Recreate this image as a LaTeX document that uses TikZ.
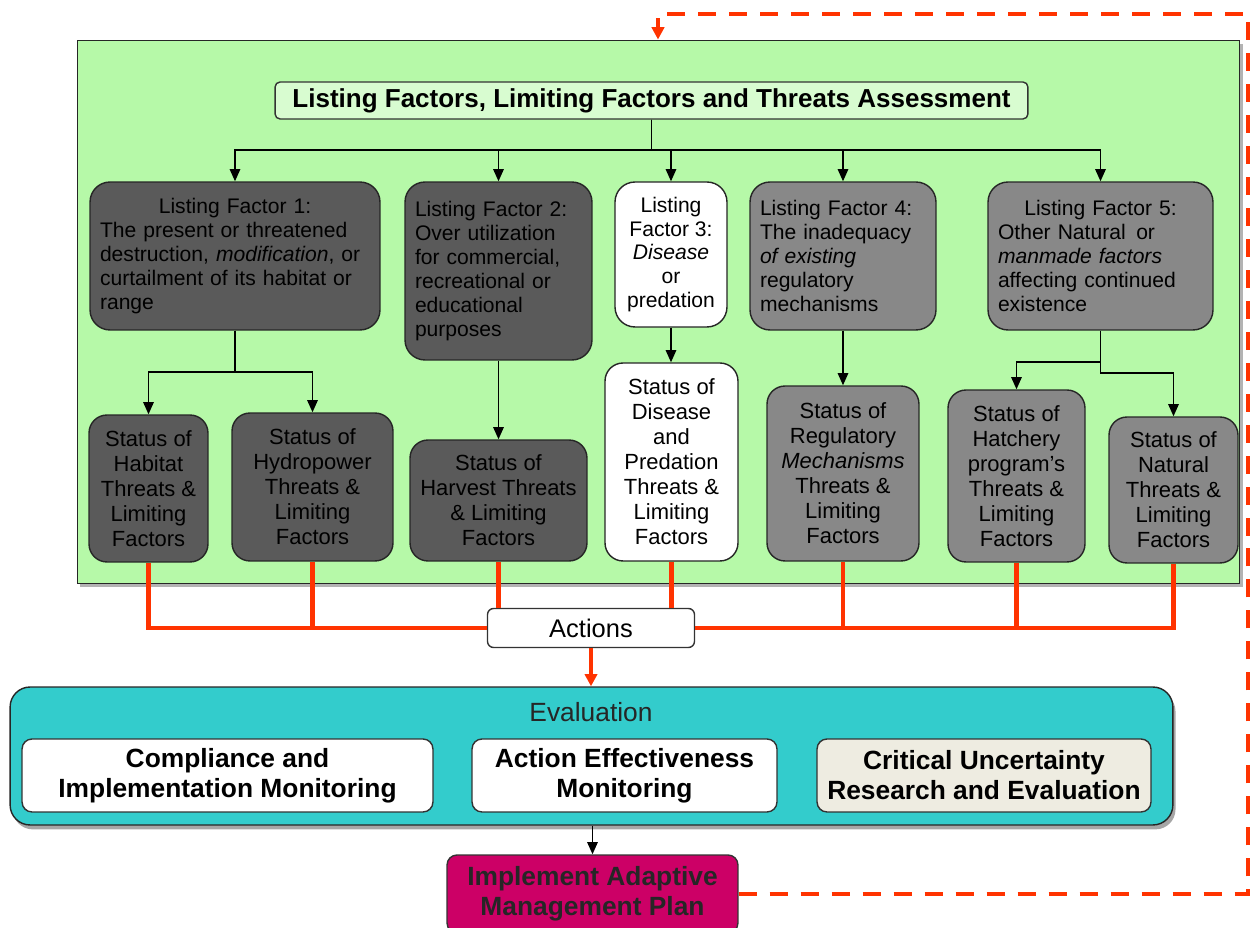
\documentclass[tikz,border=0pt]{standalone}
\usepackage{fontspec}
\setmainfont[Ligatures=NoCommon]{Liberation Sans}
\usetikzlibrary{arrows.meta,positioning,shadows}

\definecolor{panelgreen}{RGB}{182,249,168}
\definecolor{titlegreen}{RGB}{216,252,208}
\definecolor{darkgrey}{RGB}{90,90,90}
\definecolor{midgrey}{RGB}{136,136,136}
\definecolor{evalteal}{RGB}{51,204,204}
\definecolor{cream}{RGB}{238,236,225}
\definecolor{plancrimson}{RGB}{204,0,102}
\definecolor{actred}{RGB}{255,51,0}

\newcommand{\lffont}{\fontsize{12}{13.6}\selectfont}
\newcommand{\stfont}{\fontsize{12.5}{14.2}\selectfont}
\newcommand{\bigbold}{\fontsize{15}{17}\selectfont\bfseries}

\begin{document}
\begin{tikzpicture}
  [x=0.02cm,y=-0.02cm,
   panelbox/.style={draw=black!85,line width=0.6pt,fill=panelgreen,
     drop shadow={shadow xshift=1.5pt,shadow yshift=-2pt,opacity=.6}},
   titlebox/.style={draw=black!80,line width=0.8pt,fill=titlegreen,rounded corners=0.1cm,
     font=\fontsize{14.8}{17}\selectfont\bfseries},
   lfbox/.style={draw=black!85,line width=0.8pt,rounded corners=0.4cm,inner xsep=0.2cm,
     align=left,font=\lffont},
   stbox/.style={draw=black!85,line width=0.8pt,rounded corners=0.36cm,inner sep=0pt,
     align=center,font=\stfont},
   dark/.style={fill=darkgrey},
   mid/.style={fill=midgrey},
   light/.style={fill=white},
   actbox/.style={draw=black!80,line width=0.8pt,fill=white,rounded corners=0.12cm,
     font=\fontsize{14.5}{16}\selectfont},
   evalbox/.style={draw=black!85,line width=0.8pt,fill=evalteal,rounded corners=0.4cm,
     drop shadow={shadow xshift=1.5pt,shadow yshift=-2.5pt,opacity=.7}},
   monbox/.style={draw=black!80,line width=0.8pt,rounded corners=0.2cm,align=center,
     font=\bigbold},
   planbox/.style={draw=black!80,line width=0.8pt,fill=plancrimson,rounded corners=0.2cm,
     align=center,text=black!85,font=\bigbold},
   plain/.style={inner sep=0pt},
   arr/.style={line width=0.9pt,-{Triangle[length=7pt,width=6pt]}},
   redline/.style={actred,line width=2.3pt},
   loopline/.style={actred,line width=2.3pt,dash pattern=on 0.36cm off 0.26cm,
     -{Triangle[length=7pt,width=7pt]}}]

  \useasboundingbox (0,0) rectangle (1252,928);

  % assessment panel
  \node (panel) [panelbox,minimum width=23.26cm,minimum height=10.88cm] at (658.5,312) {};
  \node (title) [titlebox,minimum width=15.06cm,minimum height=0.74cm] at (651.5,100.5)
    {Listing Factors, Limiting Factors and Threats Assessment};

  % listing factors
  \node (lf1) [lfbox,dark,text width=5.4cm,minimum height=2.96cm] at (235,256)
    {{\centering Listing Factor 1:\par}The present or threatened\\
     destruction, \textit{modification}, or\\ curtailment of its habitat or\\ range};
  \node (lf2) [lfbox,dark,text width=3.34cm,minimum height=3.56cm] at (498.5,271)
    {Listing Factor 2:\\ Over utilization\\ for commercial,\\ recreational or\\
     educational\\ purposes};
  \node (lf3) [lfbox,light,align=center,inner xsep=0pt,minimum width=2.24cm,minimum height=2.9cm]
    at (671,254.5) {Listing\\ Factor 3:\\ \textit{Disease}\\ or\\ predation};
  \node (lf4) [lfbox,mid,text width=3.32cm,minimum height=2.96cm] at (843,256)
    {Listing Factor 4:\\ The inadequacy\\ \textit{of existing}\\ regulatory\\ mechanisms};
  \node (lf5) [lfbox,mid,text width=4.1cm,minimum height=2.96cm] at (1100.5,256)
    {{\centering Listing Factor 5:\par}Other Natural\, or\\ \textit{manmade factors}\\
     affecting continued\\ existence};

  % status of threats
  \node (shab) [stbox,dark,minimum width=2.38cm,minimum height=2.94cm] at (148.5,488.5)
    {Status of\\ Habitat\\ Threats \&\\ Limiting\\ Factors};
  \node (shyd) [stbox,dark,minimum width=3.22cm,minimum height=2.96cm] at (312.5,487)
    {Status of\\ Hydropower\\ Threats \&\\ Limiting\\ Factors};
  \node (sharv) [stbox,dark,minimum width=3.54cm,minimum height=2.42cm] at (498.5,500.5)
    {Status of\\ Harvest Threats\\ \& Limiting\\ Factors};
  \node (sdis) [stbox,light,minimum width=2.66cm,minimum height=3.96cm] at (671.5,462)
    {Status of\\ Disease\\ and\\ Predation\\ Threats \&\\ Limiting\\ Factors};
  \node (sreg) [stbox,mid,minimum width=3.04cm,minimum height=3.5cm] at (843,473.5)
    {Status of\\ Regulatory\\ \textit{Mechanisms}\\ Threats \&\\ Limiting\\ Factors};
  \node (shat) [stbox,mid,minimum width=2.74cm,minimum height=3.44cm] at (1016.5,476)
    {Status of\\ Hatchery\\ program's\\ Threats \&\\ Limiting\\ Factors};
  \node (snat) [stbox,mid,minimum width=2.58cm,minimum height=2.92cm] at (1173.5,490)
    {Status of\\ Natural\\ Threats \&\\ Limiting\\ Factors};

  % actions, evaluation and plan
  \node (actions) [actbox,minimum width=4.14cm,minimum height=0.78cm] at (591,628) {Actions};
  \node (eval) [evalbox,minimum width=23.26cm,minimum height=2.76cm] at (591.5,756) {};
  \node (evlabel) [plain,text=black!85,font=\fontsize{15}{17}\selectfont] at (591,712) {Evaluation};
  \node (comp) [monbox,fill=white,minimum width=8.22cm,minimum height=1.46cm] at (227.5,775.5)
    {Compliance and\\ Implementation Monitoring};
  \node (aem) [monbox,fill=white,minimum width=6.1cm,minimum height=1.46cm] at (624.5,775.5)
    {Action Effectiveness\\ Monitoring};
  \node (cure) [monbox,fill=cream,minimum width=6.68cm,minimum height=1.46cm] at (984,775.5)
    {Critical Uncertainty\\ Research and Evaluation};
  \node (plan) [planbox,minimum width=5.82cm,minimum height=1.56cm] at (592.5,894)
    {Implement Adaptive\\ Management Plan};

  % black connectors
  \coordinate (tbar) at (652,150);
  \coordinate (b1) at (236,372);
  \coordinate (b5) at (1100,362);
  \coordinate (b5r) at (1100,373);
  \foreach \to in {lf1,lf2,lf3,lf4,lf5}
    \draw[arr] (title.south) |- (\to.north |- tbar) -- (\to.north);
  \foreach \to in {shab,shyd}
    \draw[arr] (lf1.south) |- (\to.north |- b1) -- (\to.north);
  \draw[arr] (lf2.south) -- (sharv.north);
  \draw[arr] (lf3.south) -- (lf3.south |- sdis.north);
  \draw[arr] (lf4.south) -- (sreg.north);
  \draw[arr] (lf5.south) |- (shat.north |- b5) -- (shat.north);
  \draw[arr] (lf5.south) |- (snat.north |- b5r) -- (snat.north);

  % red connectors to actions
  \foreach \s in {shab,shyd}
    \draw[redline] (\s.south) |- (actions.west);
  \foreach \s in {sharv,sdis}
    \draw[redline] (\s.south) -- (\s.south |- actions.north);
  \foreach \s in {sreg,shat,snat}
    \draw[redline] (\s.south) |- (actions.east);
  \draw[redline,-{Triangle[length=7pt,width=7pt]}] (actions.south) -- (actions.south |- eval.north);
  \draw[arr] (eval.south -| plan.north) -- (plan.north);

  % feedback loop
  \coordinate (cr) at (1248,14);
  \coordinate (cl) at (658,14);
  \draw[loopline] (plan.east) -| (cr) -- (cl) -- (cl |- panel.north);
\end{tikzpicture}
\end{document}
